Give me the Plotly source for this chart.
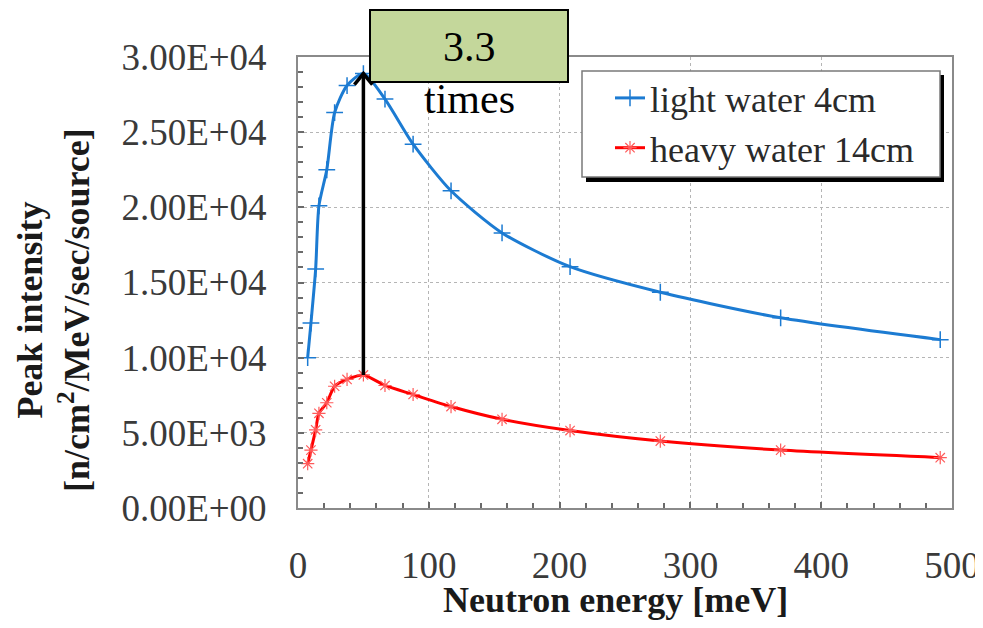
import plotly.graph_objects as go

# ---- data ----
energy_mev = [7.4, 9.9, 13.5, 16, 22, 28, 37.5, 50, 66.5, 88, 117, 156, 208, 277, 369, 491]
light_water_4cm = [10000, 12300, 15900, 20100, 22500, 26300, 28100, 28900, 27200, 24200,
                   21100, 18300, 16050, 14350, 12650, 11200]
heavy_water_14cm = [2950, 3850, 5200, 6300, 7000, 8100, 8550, 8850, 8150, 7550,
                    6750, 5900, 5150, 4450, 3850, 3350]

x_tick_vals = [0, 100, 200, 300, 400, 500]
x_tick_text = ["0", "100", "200", "300", "400", "500"]
y_tick_vals = [0, 5000, 10000, 15000, 20000, 25000, 30000]
y_tick_text = ["0.00E+00", "5.00E+03", "1.00E+04", "1.50E+04", "2.00E+04", "2.50E+04", "3.00E+04"]

ratio_text = "3.3"
ratio_sub = "times"

SERIF = "Liberation Serif"
BLUE = "#1c7bd2"
RED = "#ff0000"

# page body has an 8px margin, so the figure starts 8px in from the window corner;
# keep the page from overflowing vertically (that would add a scrollbar)
OFF = 8
W, H = 983 - OFF, 628 - 2 * OFF
L, T = 298 - OFF, 57 - OFF
R = W - (952 - OFF)
B = H - (508 - OFF)
PW, PH = W - L - R, H - T - B


def px(xs):
    """window x pixel -> paper x"""
    return (xs - OFF - L) / PW


def py(ys):
    """window y pixel -> paper y"""
    return (H - B - (ys - OFF)) / PH


fig = go.Figure()

fig.add_trace(go.Scatter(
    x=energy_mev, y=light_water_4cm, name="light water 4cm",
    mode="lines+markers",
    line=dict(color=BLUE, width=3, shape="spline", smoothing=0.7),
    marker=dict(symbol="cross-thin", size=12, color=BLUE,
                line=dict(color=BLUE, width=1.5)),
))
fig.add_trace(go.Scatter(
    x=energy_mev, y=heavy_water_14cm, name="heavy water 14cm",
    mode="lines+markers",
    line=dict(color=RED, width=3, shape="spline", smoothing=0.7),
    marker=dict(symbol="asterisk", size=11, color="#ff5a5a",
                line=dict(color="#ff5a5a", width=1.2)),
))

axis_common = dict(
    showline=True, linecolor="#8a8a8a", linewidth=2, mirror=True,
    showgrid=True, gridcolor="#b5b5b5", griddash="dot", gridwidth=1,
    zeroline=False, automargin=False,
    ticks="inside", ticklen=6, tickcolor="#6a6a6a", tickwidth=1.5,
    tickfont=dict(family=SERIF, size=37, color="#3a3a3a"),
)

fig.update_xaxes(
    range=[0, 500], tickmode="array", tickvals=x_tick_vals, ticktext=x_tick_text,
    minor=dict(dtick=20, ticks="inside", ticklen=5, tickcolor="#6a6a6a", tickwidth=1.5,
               showgrid=False),
    ticklabelstandoff=24,
    **axis_common,
)
fig.update_yaxes(
    range=[0, 30000], tickmode="array", tickvals=y_tick_vals, ticktext=y_tick_text,
    minor=dict(dtick=1000, ticks="inside", ticklen=5, tickcolor="#6a6a6a", tickwidth=1.5,
               showgrid=False),
    ticklabelstandoff=22,
    **axis_common,
)

# arrow between the two peaks (tied to the data)
ip = light_water_4cm.index(max(light_water_4cm))
xpk = energy_mev[ip]
fig.add_shape(type="line", xref="x", yref="y",
              x0=xpk, x1=xpk, y0=heavy_water_14cm[ip], y1=light_water_4cm[ip],
              line=dict(color="black", width=3.5), layer="above")
fig.add_shape(type="path", xref="x", yref="y",
              xsizemode="pixel", ysizemode="pixel", xanchor=xpk, yanchor=light_water_4cm[ip],
              path="M -9,-11 L 0,0 L 9,-11",
              line=dict(color="black", width=3.5), layer="above")

# green ratio box
fig.add_shape(type="rect", xref="paper", yref="paper",
              x0=px(370), x1=px(568), y0=py(82), y1=py(10),
              fillcolor="#c4d79b", line=dict(color="black", width=2), layer="above")
fig.add_annotation(xref="paper", yref="paper", x=px(469), y=py(47), text=ratio_text,
                   xanchor="center", yanchor="middle",
                   showarrow=False, font=dict(family=SERIF, size=42, color="black"))
fig.add_annotation(xref="paper", yref="paper", x=px(469), y=py(99), text=ratio_sub,
                   xanchor="center", yanchor="middle",
                   showarrow=False, font=dict(family=SERIF, size=42, color="black"))

# legend frame with shadow
fig.add_shape(type="rect", xref="paper", yref="paper",
              x0=px(586), x1=px(944), y0=py(182), y1=py(75),
              fillcolor="black", line=dict(width=0), layer="above")
fig.add_shape(type="rect", xref="paper", yref="paper",
              x0=px(582), x1=px(940), y0=py(177), y1=py(71),
              fillcolor="white", line=dict(color="#7a7a7a", width=1.5), layer="above")

# axis titles
fig.add_annotation(xref="paper", yref="paper", x=px(615), y=py(600),
                   xanchor="center", yanchor="middle",
                   text="<b>Neutron energy [meV]</b>", showarrow=False,
                   font=dict(family=SERIF, size=36, color="#1a1a1a"))
fig.add_annotation(xref="paper", yref="paper", x=px(53), y=py(310),
                   xanchor="center", yanchor="middle",
                   text="<b>Peak intensity<br>[n/cm<sup>2</sup>/MeV/sec/source]</b>",
                   showarrow=False, textangle=-90,
                   font=dict(family=SERIF, size=36, color="#1a1a1a"))

fig.update_layout(
    width=W, height=H,
    margin=dict(l=L, r=R, t=T, b=B, autoexpand=False),
    paper_bgcolor="white", plot_bgcolor="white",
    showlegend=True,
    legend=dict(x=px(610), y=py(68), xanchor="left", yanchor="top",
                bgcolor="rgba(0,0,0,0)", borderwidth=0,
                font=dict(family=SERIF, size=36, color="#2a2a2a"),
                itemwidth=30, tracegroupgap=0),
)

fig.write_html("out.html")
